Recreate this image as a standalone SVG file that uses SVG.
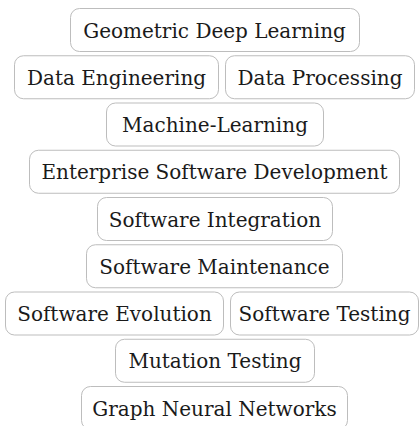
<svg xmlns="http://www.w3.org/2000/svg" width="420" height="426" viewBox="0 0 420 426">
<style>
rect.tag{fill:#ffffff;stroke:#bdbdbd;stroke-width:1}
text{font-family:"DejaVu Serif","Liberation Serif",serif;font-size:20px;fill:#1a1a1a;text-anchor:middle}
</style>
<rect width="420" height="426" fill="#ffffff"/>
<g id="connectors"></g>
<g id="n1"><rect class="tag" x="70.5" y="8.5" width="289" height="43" rx="9"/><text x="214.5" y="37.5">Geometric Deep Learning</text></g>
<g id="n2"><rect class="tag" x="14.5" y="55.75" width="204" height="43" rx="9"/><text x="116.5" y="84.75">Data Engineering</text></g>
<g id="n3"><rect class="tag" x="225.5" y="55.75" width="189" height="43" rx="9"/><text x="320" y="84.75">Data Processing</text></g>
<g id="n4"><rect class="tag" x="106.5" y="103" width="217" height="43" rx="9"/><text x="215" y="132">Machine-Learning</text></g>
<g id="n5"><rect class="tag" x="29.5" y="150.25" width="370" height="43" rx="9"/><text x="214.5" y="179.25">Enterprise Software Development</text></g>
<g id="n6"><rect class="tag" x="97.5" y="197.5" width="235" height="43" rx="9"/><text x="215" y="226.5">Software Integration</text></g>
<g id="n7"><rect class="tag" x="86.5" y="244.75" width="256" height="43" rx="9"/><text x="214.5" y="273.75">Software Maintenance</text></g>
<g id="n8"><rect class="tag" x="5.5" y="292" width="218" height="43" rx="9"/><text x="114.5" y="321">Software Evolution</text></g>
<g id="n9"><rect class="tag" x="230.5" y="292" width="188" height="43" rx="9"/><text x="324.5" y="321">Software Testing</text></g>
<g id="n10"><rect class="tag" x="115.5" y="339.25" width="199" height="43" rx="9"/><text x="215" y="368.25">Mutation Testing</text></g>
<g id="n11"><rect class="tag" x="81.5" y="386.5" width="266" height="43" rx="9"/><text x="214.5" y="415.5">Graph Neural Networks</text></g>
</svg>
